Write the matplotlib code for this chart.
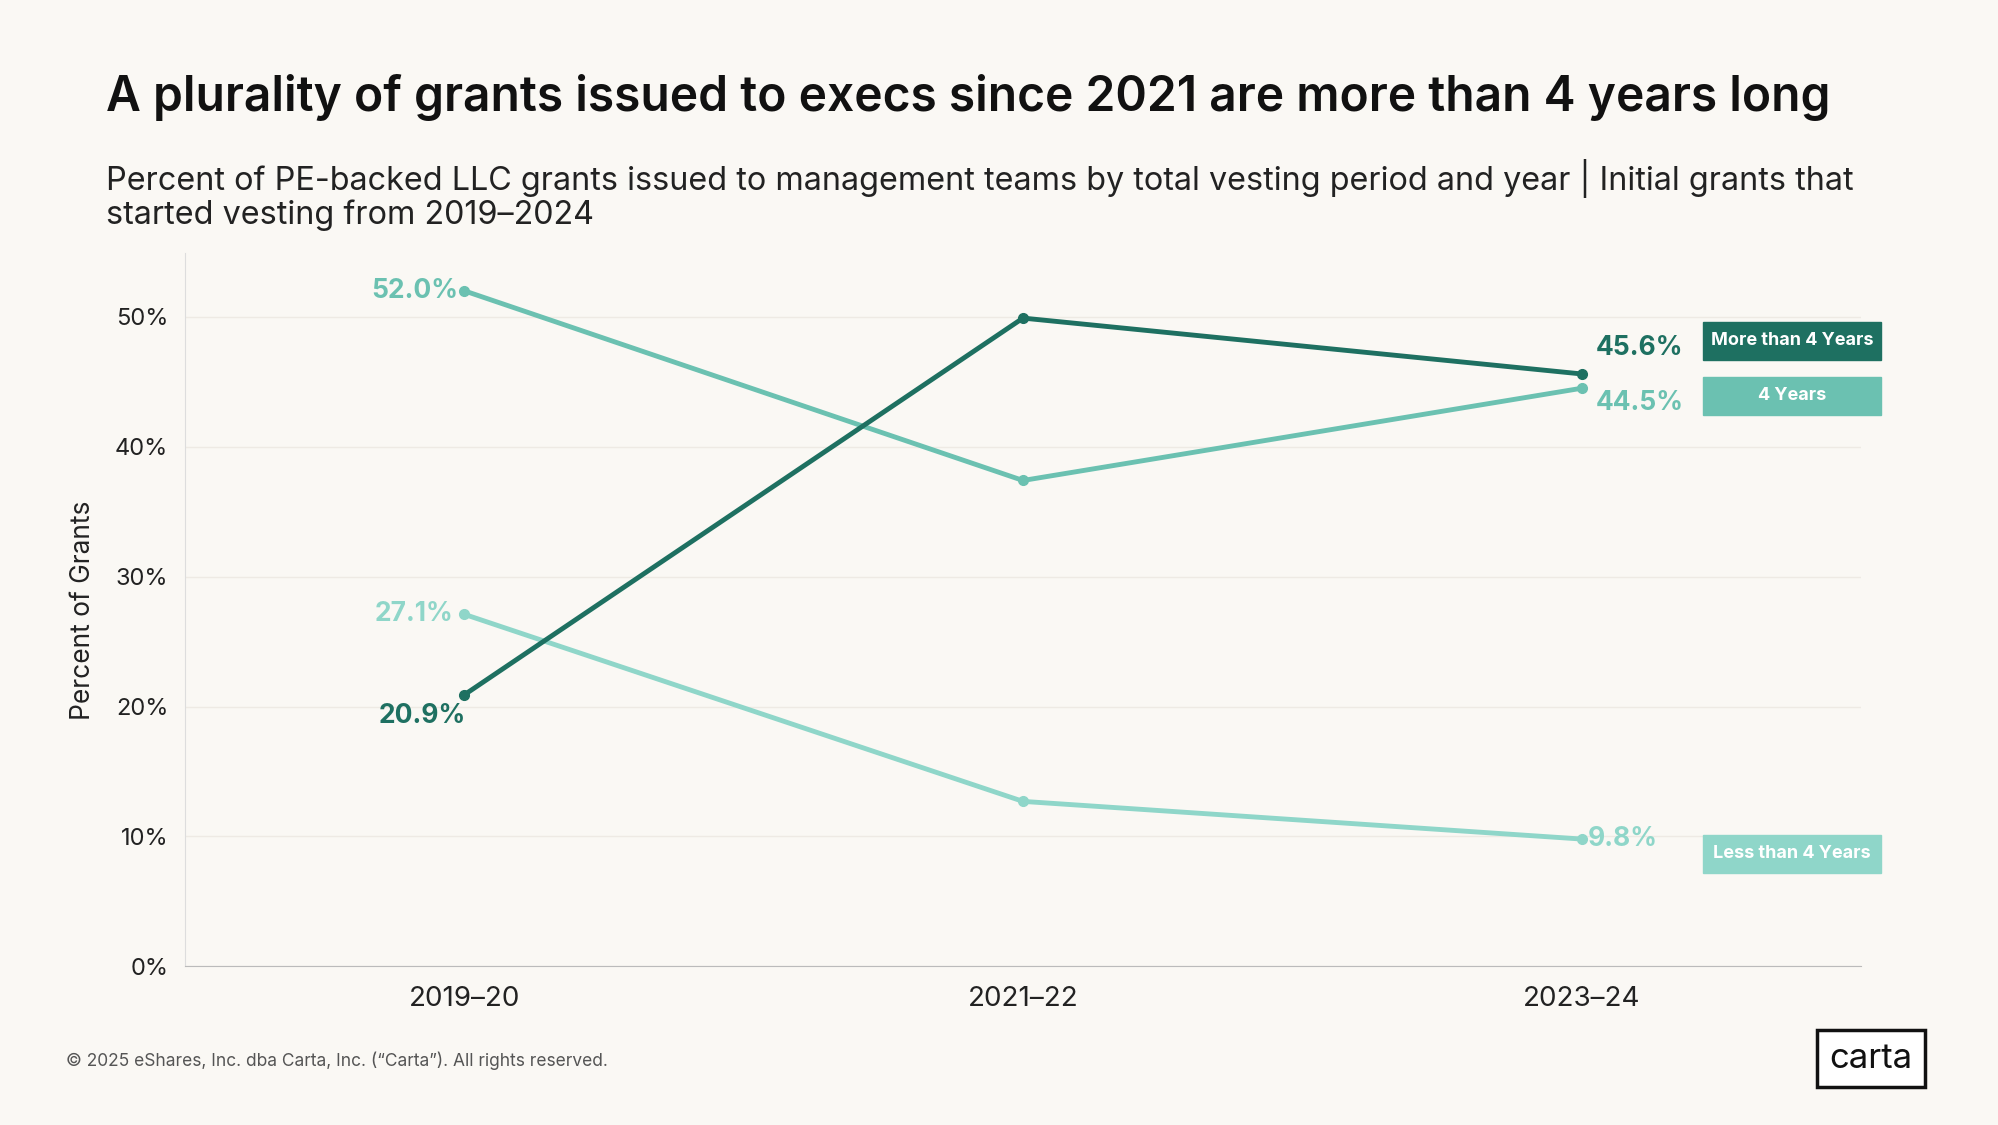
import matplotlib
matplotlib.use("Agg")
import matplotlib.pyplot as plt

periods = ["2019–20", "2021–22", "2023–24"]
more_than_4 = [20.9, 49.9, 45.6]
four_years = [52.0, 37.4, 44.5]
less_than_4 = [27.1, 12.7, 9.8]
y_ticks = [0, 10, 20, 30, 40, 50]

bg = "#faf8f4"
c_dark = "#1e7061"
c_mid = "#6bc1b1"
c_light = "#8fd6c9"

plt.rcParams['font.family'] = ['Inter', 'DejaVu Sans']

fig = plt.figure(figsize=(19.99, 11.25), dpi=100, facecolor=bg)
ax = fig.add_axes([0.0925, 0.141, 0.8385, 0.634], facecolor=bg)

x = range(len(periods))
ax.plot(x, four_years, color=c_mid, lw=3.5, marker="o", ms=7, zorder=3)
ax.plot(x, less_than_4, color=c_light, lw=3.5, marker="o", ms=7, zorder=3)
ax.plot(x, more_than_4, color=c_dark, lw=3.5, marker="o", ms=7, zorder=4)

ax.set_xlim(-0.5, 2.5)
ax.set_ylim(0, 54.9)
ax.set_xticks(list(x))
ax.set_xticklabels(periods, fontsize=20, color="#222222")
ax.set_yticks(y_ticks)
ax.set_yticklabels([f"{t}%" for t in y_ticks], fontsize=17, color="#222222")
ax.tick_params(length=0, pad=12)
ax.tick_params(axis="x", pad=14)
ax.grid(axis="y", color="#eeeae4", lw=1)
ax.set_axisbelow(True)
for s in ["top", "right"]:
    ax.spines[s].set_visible(False)
ax.spines["left"].set_color("#dddddd")
ax.spines["bottom"].set_color("#bbbbbb")
ax.set_ylabel("Percent of Grants", fontsize=19, color="#222222", labelpad=14)

lab = dict(fontsize=19, fontweight="bold", va="center")
ax.text(-0.01, four_years[0], f"{four_years[0]:.1f}%", color=c_mid, ha="right", **lab)
ax.text(-0.02, less_than_4[0], f"{less_than_4[0]:.1f}%", color=c_light, ha="right", **lab)
ax.text(-0.075, more_than_4[0] - 1.6, f"{more_than_4[0]:.1f}%", color=c_dark, ha="center", **lab)
ax.text(2.025, more_than_4[2] + 2.0, f"{more_than_4[2]:.1f}%", color=c_dark, ha="left", **lab)
ax.text(2.025, four_years[2] - 1.1, f"{four_years[2]:.1f}%", color=c_mid, ha="left", **lab)
ax.text(2.01, less_than_4[2], f"{less_than_4[2]:.1f}%", color=c_light, ha="left", **lab)

# legend boxes
for label, col, y in [("More than 4 Years", c_dark, 0.697), ("4 Years", c_mid, 0.648),
                      ("Less than 4 Years", c_light, 0.241)]:
    fig.patches.append(plt.Rectangle((0.852, y - 0.017), 0.089, 0.034, transform=fig.transFigure,
                                     color=col, zorder=5))
    fig.text(0.8965, y, label, color="white", fontsize=13, fontweight="bold",
             ha="center", va="center", zorder=6)

fig.text(0.053, 0.913, "A plurality of grants issued to execs since 2021 are more than 4 years long",
         fontsize=34.5, fontweight="semibold", color="#111111", va="center")
fig.text(0.053, 0.827, "Percent of PE-backed LLC grants issued to management teams by total vesting period and year | Initial grants that\nstarted vesting from 2019–2024",
         fontsize=23.3, color="#222222", va="center", linespacing=1.05)
fig.text(0.033, 0.057, "© 2025 eShares, Inc. dba Carta, Inc. (“Carta”). All rights reserved.",
         fontsize=12.5, color="#555555", va="center")
fig.text(0.936, 0.059, "carta", fontsize=25, color="#111111", ha="center", va="center",
         bbox=dict(boxstyle="square,pad=0.35", fc="white", ec="#111111", lw=2.5))

fig.savefig("out.png", dpi=100, facecolor=bg)
